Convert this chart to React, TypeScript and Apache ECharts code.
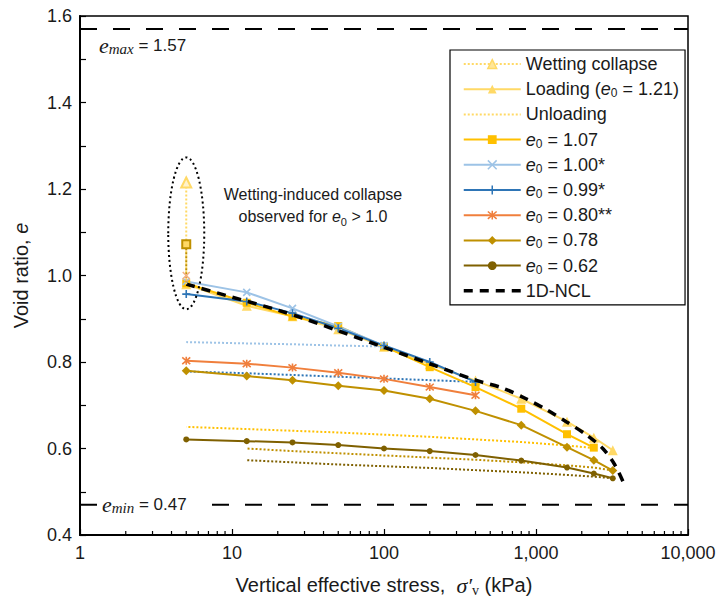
import { useEffect, useRef } from 'react';
import * as echarts from 'echarts';

// ---------------- data ----------------
const stressFull = [5, 12.5, 25, 50, 100, 200, 400, 800, 1600, 2400, 3200];
const stress107 = [5, 12.5, 25, 50, 100, 200, 400, 800, 1600, 2400];
const stress100 = [5, 12.5, 25, 50, 100];
const stress400 = [5, 12.5, 25, 50, 100, 200, 400];

const e121Load = [0.98, 0.93, 0.906, 0.876, 0.835, 0.795, 0.757, 0.715, 0.662, 0.625, 0.596];
const e107Load = [0.982, 0.937, 0.905, 0.883, 0.836, 0.788, 0.742, 0.692, 0.633, 0.602];
const e100Load = [0.986, 0.961, 0.924, 0.882, 0.838];
const e099Load = [0.957, 0.94, 0.913, 0.878, 0.838, 0.8, 0.754];
const e080Load = [0.803, 0.796, 0.787, 0.775, 0.761, 0.742, 0.723];
const e078Load = [0.78, 0.7675, 0.758, 0.745, 0.734, 0.715, 0.687, 0.654, 0.603, 0.573, 0.549];
const e062Load = [0.621, 0.617, 0.614, 0.608, 0.6, 0.594, 0.585, 0.572, 0.556, 0.542, 0.531];

const stress107Unload = [2400, 1600, 800, 400, 200, 100, 50, 25, 12.5, 5];
const e107Unload = [0.601, 0.607, 0.615, 0.621, 0.627, 0.632, 0.637, 0.641, 0.645, 0.65];
const stress100Unload = [100, 50, 25, 12.5, 5];
const e100Unload = [0.836, 0.838, 0.841, 0.843, 0.846];
const stress099Unload = [400, 200, 100, 50, 25, 12.5, 5];
const e099Unload = [0.754, 0.758, 0.762, 0.766, 0.77, 0.774, 0.778];
const stressLowUnload = [3200, 2400, 1600, 800, 400, 200, 100, 50, 25, 12.5];
const e078Unload = [0.549, 0.556, 0.561, 0.568, 0.574, 0.579, 0.584, 0.589, 0.594, 0.6];
const e062Unload = [0.531, 0.535, 0.539, 0.545, 0.55, 0.555, 0.559, 0.563, 0.568, 0.573];

const stressWet = [5, 5];
const e121Wet = [1.215, 0.98];
const e107Wet = [1.072, 0.982];
const e100Wet = [1.0, 0.986];

const stressNcl = [5, 10, 20, 30, 50, 100, 200, 400, 600, 860, 1170, 1580, 2140, 2750, 3290, 3820];
const eNcl = [0.98, 0.95, 0.92, 0.9, 0.872, 0.834, 0.796, 0.758, 0.74, 0.715, 0.69, 0.662, 0.632, 0.6, 0.563, 0.516];

const eMax = 1.57;
const eMin = 0.47;
const xRange = [1, 10000];
const yRange = [0.4, 1.6];
const decades = [1, 10, 100, 1000];
const minorMultipliers = [2, 3, 4, 5, 6, 7, 8, 9];

const legendNames = [
  'Wetting collapse',
  'Loading (e0 = 1.21)',
  'Unloading',
  'e0 = 1.07',
  'e0 = 1.00*',
  'e0 = 0.99*',
  'e0 = 0.80**',
  'e0 = 0.78',
  'e0 = 0.62',
  '1D-NCL',
];

// ---------------- styles ----------------
const FONT = 'Liberation Sans, Arial, sans-serif';
const SERIF = 'Liberation Serif, Times New Roman, serif';
const C121 = '#FFD966';
const C107 = '#FFC000';
const C100 = '#9DC3E6';
const C099 = '#2E75B6';
const C080 = '#F07F3C';
const C078 = '#BF9000';
const C062 = '#7F6000';

const X_PATH = 'path://M0,0L10,10M10,0L0,10';
const PLUS_PATH = 'path://M5,0L5,10M0,5L10,5';
const AST_PATH = 'path://M0,0L10,10M10,0L0,10M5,-1L5,11';

const pts = (xs: number[], ys: number[]) => xs.map((x, i) => [x, ys[i]]);

const legendRich = {
  e: { fontStyle: 'italic', fontFamily: FONT, fontSize: 18, lineHeight: 20 },
  s: { fontFamily: FONT, fontSize: 12, verticalAlign: 'bottom', lineHeight: 8 },
};
const noteRich = {
  e: { fontStyle: 'italic', fontFamily: FONT, fontSize: 16, lineHeight: 22 },
  s: { fontFamily: FONT, fontSize: 11, verticalAlign: 'bottom', lineHeight: 10 },
};

function loadSeries(name: string, xs: number[], ys: number[], color: string, symbol: string, size: number, extra: any = {}) {
  const isPath = symbol.startsWith('path://');
  return {
    name,
    type: 'line',
    data: pts(xs, ys),
    symbol,
    symbolSize: size,
    showSymbol: true,
    lineStyle: { color, width: 2 },
    itemStyle: isPath
      ? { color: 'rgba(0,0,0,0)', borderColor: color, borderWidth: 1.6 }
      : { color },
    emphasis: { disabled: true },
    silent: true,
    ...extra,
  };
}

function dottedSeries(name: string, xs: number[], ys: number[], color: string, extra: any = {}) {
  return {
    name,
    type: 'line',
    data: pts(xs, ys),
    symbol: 'none',
    showSymbol: false,
    lineStyle: { color, width: 2, type: [2, 2] },
    itemStyle: { color },
    emphasis: { disabled: true },
    silent: true,
    z: 2,
    ...extra,
  };
}

export default function App() {
  const ref = useRef<HTMLDivElement>(null);

  useEffect(() => {
    if (!ref.current) return;
    const chart = echarts.init(ref.current, undefined, { renderer: 'svg' });

    const minorTicks: number[][] = [];
    decades.forEach((d) => minorMultipliers.forEach((m) => minorTicks.push([d * m, yRange[0]])));

    const option: any = {
      animation: false,
      backgroundColor: '#fff',
      textStyle: { fontFamily: FONT },
      grid: { left: 80, right: 31, top: 16, bottom: 65, show: true, borderColor: '#000', borderWidth: 1.5, backgroundColor: 'transparent' },
      xAxis: {
        type: 'log',
        logBase: 10,
        min: xRange[0],
        max: xRange[1],
        axisLine: { show: true, lineStyle: { color: '#000', width: 2 } },
        axisTick: { show: true, inside: true, length: 6, lineStyle: { color: '#000', width: 1.2 } },
        splitLine: { show: false },
        axisLabel: {
          color: '#1a1a1a',
          fontSize: 18,
          fontFamily: FONT,
          margin: 9,
          formatter: (v: number) => Math.round(v).toLocaleString('en-US'),
        },
        name: 'Vertical effective stress,  {sig|σ′}{v|v} (kPa)',
        nameLocation: 'middle',
        nameGap: 38,
        nameTextStyle: {
          color: '#1a1a1a',
          fontSize: 20,
          fontFamily: FONT,
          lineHeight: 24,
          rich: {
            sig: { fontFamily: SERIF, fontStyle: 'italic', fontSize: 22, lineHeight: 24 },
            v: { fontFamily: SERIF, fontSize: 14, verticalAlign: 'bottom', lineHeight: 10 },
          },
        },
      },
      yAxis: {
        type: 'value',
        min: yRange[0],
        max: yRange[1],
        interval: 0.1,
        axisLine: { show: true, lineStyle: { color: '#000', width: 2 } },
        axisTick: { show: true, inside: true, length: 6, lineStyle: { color: '#000', width: 1.2 } },
        splitLine: { show: false },
        axisLabel: {
          color: '#1a1a1a',
          fontSize: 18,
          fontFamily: FONT,
          margin: 8,
          formatter: (v: number) => (Math.round(v * 10) % 2 === 0 ? v.toFixed(1) : ''),
        },
        name: 'Void ratio, {i|e}',
        nameLocation: 'middle',
        nameGap: 49,
        nameTextStyle: {
          color: '#1a1a1a',
          fontSize: 20,
          fontFamily: FONT,
          rich: { i: { fontStyle: 'italic', fontSize: 20, fontFamily: FONT } },
        },
      },
      legend: {
        show: true,
        orient: 'vertical',
        left: 450,
        top: 50,
        padding: [4, 6, 4, 12],
        itemWidth: 57,
        itemHeight: 11,
        itemGap: 5.2,
        selectedMode: false,
        backgroundColor: '#fff',
        borderColor: '#000',
        borderWidth: 1.2,
        textStyle: { color: '#1a1a1a', fontSize: 18, fontFamily: FONT, lineHeight: 20, rich: legendRich },
        formatter: (name: string) => name.replace('e0', '{e|e}{s|0}'),
        data: [
          { name: legendNames[0], itemStyle: { color: '#FFE699', borderColor: C121, borderWidth: 1.5 } },
          { name: legendNames[1] },
          { name: legendNames[2], itemStyle: { opacity: 0 } },
          { name: legendNames[3] },
          { name: legendNames[4], itemStyle: { color: 'rgba(0,0,0,0)', borderColor: C100, borderWidth: 1.5 } },
          { name: legendNames[5], itemStyle: { color: 'rgba(0,0,0,0)', borderColor: C099, borderWidth: 1.5 } },
          { name: legendNames[6], itemStyle: { color: 'rgba(0,0,0,0)', borderColor: C080, borderWidth: 1.5 } },
          { name: legendNames[7] },
          { name: legendNames[8] },
          { name: legendNames[9], itemStyle: { opacity: 0 }, lineStyle: { width: 3.5 } },
        ],
      },
      series: [
        dottedSeries('_u107', stress107Unload, e107Unload, C107),
        dottedSeries('_u100', stress100Unload, e100Unload, C100),
        dottedSeries('_u099', stress099Unload, e099Unload, C099),
        dottedSeries('_u078', stressLowUnload, e078Unload, C078),
        dottedSeries('_u062', stressLowUnload, e062Unload, C062),
        dottedSeries(legendNames[2], [], [], C121),
        loadSeries(legendNames[8], stressFull, e062Load, C062, 'circle', 6, { z: 3 }),
        loadSeries(legendNames[7], stressFull, e078Load, C078, 'diamond', 9, { z: 3 }),
        loadSeries(legendNames[6], stress400, e080Load, C080, AST_PATH, 8, { z: 3 }),
        loadSeries(legendNames[1], stressFull, e121Load, C121, 'triangle', 10, { z: 3 }),
        loadSeries(legendNames[3], stress107, e107Load, C107, 'rect', 8, { z: 4 }),
        loadSeries(legendNames[4], stress100, e100Load, C100, X_PATH, 7, { z: 4 }),
        loadSeries(legendNames[5], stress400, e099Load, C099, PLUS_PATH, 8, { z: 4 }),
        {
          name: legendNames[9],
          type: 'line',
          data: pts(stressNcl, eNcl),
          symbol: 'none',
          showSymbol: false,
          smooth: 0.3,
          lineStyle: { color: '#000', width: 3.5, type: [9, 7] },
          itemStyle: { color: '#000' },
          emphasis: { disabled: true },
          silent: true,
          z: 5,
        },
        {
          name: legendNames[0],
          type: 'line',
          data: [
            { value: [stressWet[0], e121Wet[0]] },
            { value: [stressWet[1], e121Wet[1]], symbol: 'none' },
          ],
          symbol: 'triangle',
          symbolSize: 10,
          lineStyle: { color: C121, width: 2, type: [2, 2] },
          itemStyle: { color: '#FFF2CC', borderColor: C121, borderWidth: 2 },
          emphasis: { disabled: true },
          silent: true,
          z: 6,
        },
        {
          name: '_w107',
          type: 'line',
          data: [
            { value: [stressWet[0], e107Wet[0]] },
            { value: [stressWet[1], e107Wet[1]], symbol: 'none' },
          ],
          symbol: 'rect',
          symbolSize: 8,
          lineStyle: { color: C078, width: 2, type: [2, 2] },
          itemStyle: { color: '#FFD966', borderColor: C078, borderWidth: 2 },
          emphasis: { disabled: true },
          silent: true,
          z: 6,
        },
        {
          name: '_w100',
          type: 'line',
          data: [
            { value: [stressWet[0], e100Wet[0]] },
            { value: [stressWet[1], e100Wet[1]], symbol: 'none' },
          ],
          symbol: X_PATH,
          symbolSize: 7,
          lineStyle: { color: '#F4B183', width: 2, type: [2, 2] },
          itemStyle: { color: 'rgba(0,0,0,0)', borderColor: '#F4B183', borderWidth: 1.6 },
          emphasis: { disabled: true },
          silent: true,
          z: 6,
        },
        {
          name: '_emax',
          type: 'line',
          data: pts(xRange, [eMax, eMax]),
          symbol: 'none',
          lineStyle: { color: '#000', width: 2, type: [17, 16] },
          emphasis: { disabled: true },
          silent: true,
          z: 1,
        },
        {
          name: '_emin',
          type: 'line',
          data: pts(xRange, [eMin, eMin]),
          symbol: 'none',
          lineStyle: { color: '#000', width: 2, type: [17, 16] },
          emphasis: { disabled: true },
          silent: true,
          z: 1,
        },
        {
          name: '_minor',
          type: 'custom',
          coordinateSystem: 'cartesian2d',
          silent: true,
          clip: false,
          z: 10,
          data: minorTicks,
          renderItem: (_p: any, api: any) => {
            const p = api.coord([api.value(0), yRange[0]]);
            return {
              type: 'line',
              shape: { x1: p[0], y1: p[1], x2: p[0], y2: p[1] - 4 },
              style: { stroke: '#000', lineWidth: 1.2 },
            };
          },
        },
      ],
    };

    chart.setOption(option);

    const wetCenter = chart.convertToPixel({ gridIndex: 0 }, [stressWet[0], (e121Wet[0] + e121Wet[1]) / 2]);
    const wetTop = chart.convertToPixel({ gridIndex: 0 }, [stressWet[0], e121Wet[0] + 0.058]);
    const emaxPx = chart.convertToPixel({ gridIndex: 0 }, [xRange[0], eMax]);
    const eminPx = chart.convertToPixel({ gridIndex: 0 }, [xRange[0], eMin]);

    const labelRich = {
      i: { fontFamily: SERIF, fontStyle: 'italic', fontSize: 22, lineHeight: 22 },
      s: { fontFamily: SERIF, fontStyle: 'italic', fontSize: 15, verticalAlign: 'bottom', lineHeight: 12 },
      t: { fontFamily: FONT, fontSize: 17, lineHeight: 22 },
    };

    chart.setOption({
      graphic: [
        {
          type: 'ellipse',
          silent: true,
          z: 20,
          shape: { cx: wetCenter[0], cy: wetCenter[1], rx: 18, ry: wetCenter[1] - wetTop[1] },
          style: { fill: 'none', stroke: '#000', lineWidth: 2, lineDash: [2, 3] },
        },
        {
          type: 'text',
          silent: true,
          z: 20,
          x: 313,
          y: 183,
          style: {
            text: 'Wetting-induced collapse\nobserved for {e|e}{s|0} > 1.0',
            fill: '#1a1a1a',
            fontSize: 16,
            fontFamily: FONT,
            lineHeight: 22,
            align: 'center',
            verticalAlign: 'top',
            rich: noteRich,
          },
        },
        {
          type: 'text',
          silent: true,
          z: 20,
          x: emaxPx[0] + 19,
          y: emaxPx[1] + 17,
          style: {
            text: '{i|e}{s|max}{t| = 1.57}',
            fill: '#1a1a1a',
            align: 'left',
            verticalAlign: 'middle',
            rich: labelRich,
          },
        },
        {
          type: 'text',
          silent: true,
          z: 20,
          x: eminPx[0] + 17,
          y: eminPx[1],
          style: {
            text: '{i|e}{s|min}{t| = 0.47}',
            fill: '#1a1a1a',
            align: 'left',
            verticalAlign: 'middle',
            backgroundColor: '#fff',
            padding: [0, 14, 0, 5],
            rich: labelRich,
          },
        },
      ],
    });

    return () => chart.dispose();
  }, []);

  return (
    <div
      ref={ref}
      style={{ position: 'fixed', left: 0, top: 0, width: 719, height: 602, background: '#fff' }}
    />
  );
}
